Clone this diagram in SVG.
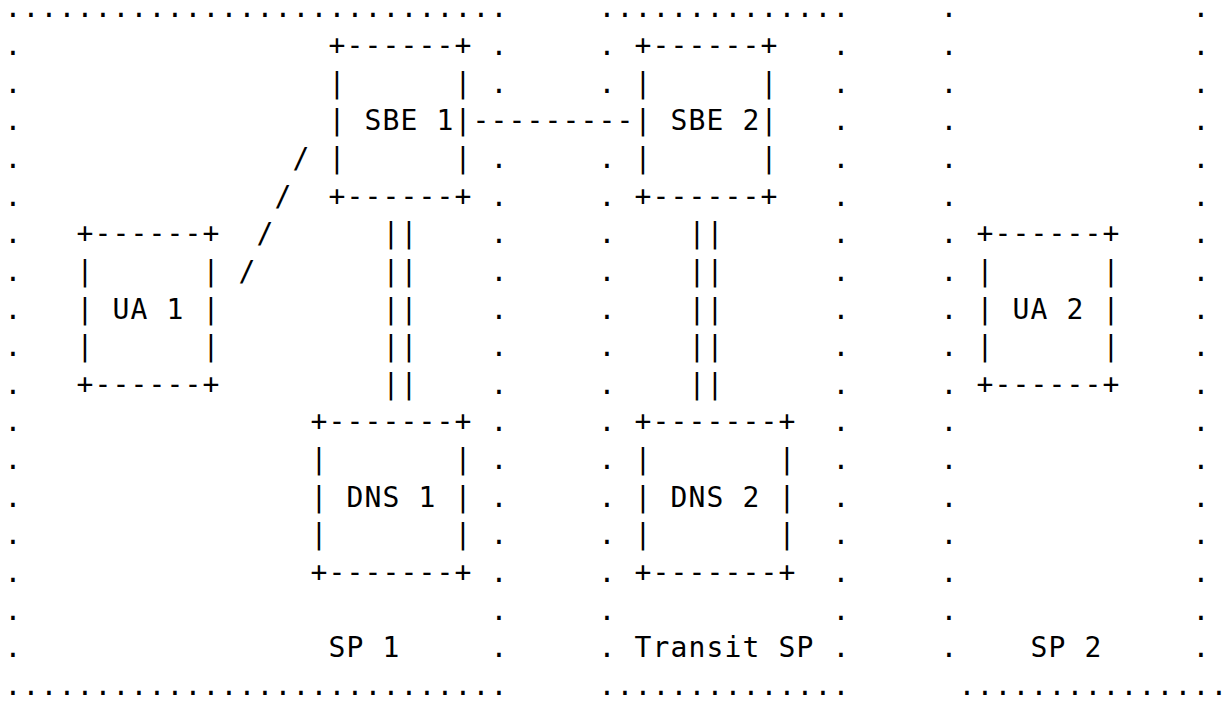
<svg xmlns="http://www.w3.org/2000/svg" width="1232" height="703" viewBox="0 0 1232 703" xml:space="preserve">
<style>
text{font-family:"DejaVu Sans Mono","Liberation Mono",monospace;font-size:28px;letter-spacing:1.144px;fill:#000;white-space:pre}
</style>
<rect width="1232" height="703" fill="#fff"/>
<g id="region-sp1">
<text x="4.5" y="17.3">............................</text>
<text><tspan x="4.5" y="55">.</tspan><tspan x="4.5" y="92.6">.</tspan><tspan x="4.5" y="130.25">.</tspan><tspan x="4.5" y="167.9">.</tspan><tspan x="4.5" y="205.55">.</tspan><tspan x="4.5" y="243.2">.</tspan><tspan x="4.5" y="280.85">.</tspan><tspan x="4.5" y="318.5">.</tspan><tspan x="4.5" y="356.15">.</tspan><tspan x="4.5" y="393.8">.</tspan><tspan x="4.5" y="431.45">.</tspan><tspan x="4.5" y="469.1">.</tspan><tspan x="4.5" y="506.75">.</tspan><tspan x="4.5" y="544.4">.</tspan><tspan x="4.5" y="582.05">.</tspan><tspan x="4.5" y="619.7">.</tspan><tspan x="4.5" y="657.35">.</tspan></text>
<text><tspan x="490.5" y="55">.</tspan><tspan x="490.5" y="92.6">.</tspan><tspan x="490.5" y="167.9">.</tspan><tspan x="490.5" y="205.55">.</tspan><tspan x="490.5" y="243.2">.</tspan><tspan x="490.5" y="280.85">.</tspan><tspan x="490.5" y="318.5">.</tspan><tspan x="490.5" y="356.15">.</tspan><tspan x="490.5" y="393.8">.</tspan><tspan x="490.5" y="431.45">.</tspan><tspan x="490.5" y="469.1">.</tspan><tspan x="490.5" y="506.75">.</tspan><tspan x="490.5" y="544.4">.</tspan><tspan x="490.5" y="582.05">.</tspan><tspan x="490.5" y="619.7">.</tspan><tspan x="490.5" y="657.35">.</tspan></text>
<text x="4.5" y="695">............................</text>
<text x="328.5" y="657.35">SP 1</text>
</g>
<g id="region-transit">
<text x="598.5" y="17.3">..............</text>
<text><tspan x="598.5" y="55">.</tspan><tspan x="598.5" y="92.6">.</tspan><tspan x="598.5" y="167.9">.</tspan><tspan x="598.5" y="205.55">.</tspan><tspan x="598.5" y="243.2">.</tspan><tspan x="598.5" y="280.85">.</tspan><tspan x="598.5" y="318.5">.</tspan><tspan x="598.5" y="356.15">.</tspan><tspan x="598.5" y="393.8">.</tspan><tspan x="598.5" y="431.45">.</tspan><tspan x="598.5" y="469.1">.</tspan><tspan x="598.5" y="506.75">.</tspan><tspan x="598.5" y="544.4">.</tspan><tspan x="598.5" y="582.05">.</tspan><tspan x="598.5" y="619.7">.</tspan><tspan x="598.5" y="657.35">.</tspan></text>
<text><tspan x="832.5" y="55">.</tspan><tspan x="832.5" y="92.6">.</tspan><tspan x="832.5" y="130.25">.</tspan><tspan x="832.5" y="167.9">.</tspan><tspan x="832.5" y="205.55">.</tspan><tspan x="832.5" y="243.2">.</tspan><tspan x="832.5" y="280.85">.</tspan><tspan x="832.5" y="318.5">.</tspan><tspan x="832.5" y="356.15">.</tspan><tspan x="832.5" y="393.8">.</tspan><tspan x="832.5" y="431.45">.</tspan><tspan x="832.5" y="469.1">.</tspan><tspan x="832.5" y="506.75">.</tspan><tspan x="832.5" y="544.4">.</tspan><tspan x="832.5" y="582.05">.</tspan><tspan x="832.5" y="619.7">.</tspan><tspan x="832.5" y="657.35">.</tspan></text>
<text x="598.5" y="695">..............</text>
<text x="634.5" y="657.35">Transit SP</text>
</g>
<g id="region-sp2">
<text><tspan x="940.5" y="17.3">.</tspan><tspan x="940.5" y="55">.</tspan><tspan x="940.5" y="92.6">.</tspan><tspan x="940.5" y="130.25">.</tspan><tspan x="940.5" y="167.9">.</tspan><tspan x="940.5" y="205.55">.</tspan><tspan x="940.5" y="243.2">.</tspan><tspan x="940.5" y="280.85">.</tspan><tspan x="940.5" y="318.5">.</tspan><tspan x="940.5" y="356.15">.</tspan><tspan x="940.5" y="393.8">.</tspan><tspan x="940.5" y="431.45">.</tspan><tspan x="940.5" y="469.1">.</tspan><tspan x="940.5" y="506.75">.</tspan><tspan x="940.5" y="544.4">.</tspan><tspan x="940.5" y="582.05">.</tspan><tspan x="940.5" y="619.7">.</tspan><tspan x="940.5" y="657.35">.</tspan></text>
<text><tspan x="1192.5" y="17.3">.</tspan><tspan x="1192.5" y="55">.</tspan><tspan x="1192.5" y="92.6">.</tspan><tspan x="1192.5" y="130.25">.</tspan><tspan x="1192.5" y="167.9">.</tspan><tspan x="1192.5" y="205.55">.</tspan><tspan x="1192.5" y="243.2">.</tspan><tspan x="1192.5" y="280.85">.</tspan><tspan x="1192.5" y="318.5">.</tspan><tspan x="1192.5" y="356.15">.</tspan><tspan x="1192.5" y="393.8">.</tspan><tspan x="1192.5" y="431.45">.</tspan><tspan x="1192.5" y="469.1">.</tspan><tspan x="1192.5" y="506.75">.</tspan><tspan x="1192.5" y="544.4">.</tspan><tspan x="1192.5" y="582.05">.</tspan><tspan x="1192.5" y="619.7">.</tspan><tspan x="1192.5" y="657.35">.</tspan></text>
<text x="958.5" y="695">...............</text>
<text x="1030.5" y="657.35">SP 2</text>
</g>
<g id="node-sbe1">
<text x="328.5" y="55">+------+</text>
<text x="328.5" y="92.6">|      |</text>
<text x="328.5" y="130.25">| SBE 1|</text>
<text x="328.5" y="167.9">|      |</text>
<text x="328.5" y="205.55">+------+</text>
</g>
<g id="node-sbe2">
<text x="634.5" y="55">+------+</text>
<text x="634.5" y="92.6">|      |</text>
<text x="634.5" y="130.25">| SBE 2|</text>
<text x="634.5" y="167.9">|      |</text>
<text x="634.5" y="205.55">+------+</text>
</g>
<g id="node-ua1">
<text x="76.5" y="243.2">+------+</text>
<text x="76.5" y="280.85">|      |</text>
<text x="76.5" y="318.5">| UA 1 |</text>
<text x="76.5" y="356.15">|      |</text>
<text x="76.5" y="393.8">+------+</text>
</g>
<g id="node-ua2">
<text x="976.5" y="243.2">+------+</text>
<text x="976.5" y="280.85">|      |</text>
<text x="976.5" y="318.5">| UA 2 |</text>
<text x="976.5" y="356.15">|      |</text>
<text x="976.5" y="393.8">+------+</text>
</g>
<g id="node-dns1">
<text x="310.5" y="431.45">+-------+</text>
<text x="310.5" y="469.1">|       |</text>
<text x="310.5" y="506.75">| DNS 1 |</text>
<text x="310.5" y="544.4">|       |</text>
<text x="310.5" y="582.05">+-------+</text>
</g>
<g id="node-dns2">
<text x="634.5" y="431.45">+-------+</text>
<text x="634.5" y="469.1">|       |</text>
<text x="634.5" y="506.75">| DNS 2 |</text>
<text x="634.5" y="544.4">|       |</text>
<text x="634.5" y="582.05">+-------+</text>
</g>
<g id="connectors">
<text x="472.5" y="130.25">---------</text>
<text x="292.5" y="167.9">/</text>
<text x="274.5" y="205.55">/</text>
<text x="256.5" y="243.2">/</text>
<text x="238.5" y="280.85">/</text>
<text><tspan x="382.5" y="243.2">||</tspan><tspan x="382.5" y="280.85">||</tspan><tspan x="382.5" y="318.5">||</tspan><tspan x="382.5" y="356.15">||</tspan><tspan x="382.5" y="393.8">||</tspan></text>
<text><tspan x="688.5" y="243.2">||</tspan><tspan x="688.5" y="280.85">||</tspan><tspan x="688.5" y="318.5">||</tspan><tspan x="688.5" y="356.15">||</tspan><tspan x="688.5" y="393.8">||</tspan></text>
</g>
</svg>
